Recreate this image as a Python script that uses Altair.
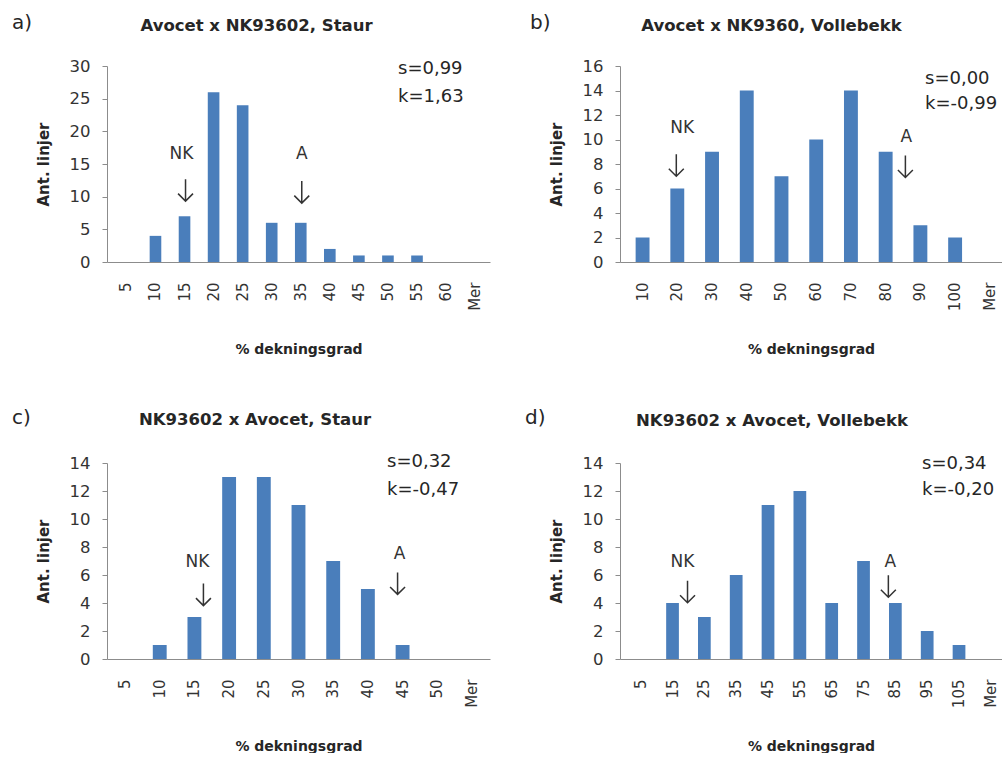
import altair as alt
import pandas as pd

# ---------------- data ----------------
titles = ["Avocet x NK93602,  Staur", "Avocet x NK9360, Vollebekk",
          "NK93602 x Avocet, Staur", "NK93602 x Avocet, Vollebekk"]
tags = ["a)", "b)", "c)", "d)"]
s_texts = ["s=0,99", "s=0,00", "s=0,32", "s=0,34"]
k_texts = ["k=1,63", "k=-0,99", "k=-0,47", "k=-0,20"]

cats_a = ["5", "10", "15", "20", "25", "30", "35", "40", "45", "50", "55", "60", "Mer"]
vals_a = [0, 4, 7, 26, 24, 6, 6, 2, 1, 1, 1, 0, 0]
cats_b = ["10", "20", "30", "40", "50", "60", "70", "80", "90", "100", "Mer"]
vals_b = [2, 6, 9, 14, 7, 10, 14, 9, 3, 2, 0]
cats_c = ["5", "10", "15", "20", "25", "30", "35", "40", "45", "50", "Mer"]
vals_c = [0, 1, 3, 13, 13, 11, 7, 5, 1, 0, 0]
cats_d = ["5", "15", "25", "35", "45", "55", "65", "75", "85", "95", "105", "Mer"]
vals_d = [0, 4, 3, 6, 11, 12, 4, 7, 4, 2, 1, 0]

y_max = [30, 16, 14, 14]
y_step = [5, 2, 2, 2]

ann_labels = [["NK", "A"], ["NK", "A"], ["NK", "A"], ["NK", "A"]]
ann_cats = [["15", "35"], ["20", "90"], ["15", "45"], ["15", "85"]]
ann_text_y = [[16.5, 16.5], [10.9, 10.2], [6.9, 7.5], [6.9, 6.9]]
ann_arrow_y = [[11.0, 10.7], [7.9, 7.8], [4.6, 5.4], [4.8, 5.2]]

# ---------------- style / layout ----------------
FONT = "DejaVu Sans"
BAR = "#4a7ebb"
AX = "#8c8c8c"
TXT = "#262626"
LBL = "#333333"
H = 196
widths = [383, 382, 383, 382]
pad_outer = [0.39, 0.3, 0.32, 0.3]
band_align = [0.6, 0.75, 0.5, 0.75]
ann_text_dx = [[-3, 1], [5, -14], [3, -3], [10, -5]]
ann_arrow_dx = [[1, 1], [-1, -15], [9, -5], [15, -7]]
title_pos = [(149.5, -40), (151.5, -40), (148, -43), (152, -42)]
tag_pos = [(-95, -43), (-90, -43), (-95, -45.5), (-95, -45.5)]
sk_pos = [(291, 2.5, 30.5), (305, 12.5, 37.5), (280, -1.5, 27), (302, 1, 26.5)]
ARROW = "M0,-1L0,1M-0.68,0.32L0,1L0.68,0.32"


def panel(i, cats, vals):
    W = widths[i]
    xs = alt.Scale(domain=cats, paddingInner=0.6, paddingOuter=pad_outer[i], align=band_align[i])
    ys = alt.Scale(domain=[0, y_max[i]], nice=False)
    x_axis = alt.Axis(labelAngle=270, ticks=False, labelPadding=20, labelFontSize=15,
                      titleY=87, titleBaseline="middle", titleFontSize=14,
                      titleFontWeight="bold")
    y_axis = alt.Axis(values=list(range(0, y_max[i] + 1, y_step[i])), labelFontSize=16.5,
                      tickSize=5, labelPadding=12, titleX=-64, titleY=H / 2,
                      titleAngle=270, titleAlign="center", titleBaseline="middle",
                      titleFontSize=15, titleFontWeight="bold")

    def xe():
        return alt.X("cat:N", scale=xs, sort=None, title="% dekningsgrad", axis=x_axis)

    def ye(field):
        return alt.Y(field, scale=ys, title="Ant. linjer", axis=y_axis)

    df = pd.DataFrame({"cat": cats, "n": vals})
    bars = alt.Chart(df).mark_bar(color=BAR).encode(x=xe(), y=ye("n:Q"))
    layers = [bars]
    for j, lab in enumerate(ann_labels[i]):
        adf = pd.DataFrame({"cat": [ann_cats[i][j]], "ty": [ann_text_y[i][j]],
                            "ay": [ann_arrow_y[i][j]], "lab": [lab]})
        layers.append(alt.Chart(adf).mark_text(font=FONT, fontSize=17, color="#333333",
                                               dx=ann_text_dx[i][j], baseline="middle").encode(
            x=xe(), y=ye("ty:Q"), text="lab:N"))
        layers.append(alt.Chart(adf).mark_point(shape=ARROW, filled=False, stroke="#333333",
                                                strokeWidth=1.5, size=484, opacity=1,
                                                xOffset=ann_arrow_dx[i][j]).encode(
            x=xe(), y=ye("ay:Q")))
    tdf = pd.DataFrame({"t": [titles[i]]})
    layers.append(alt.Chart(tdf).mark_text(font=FONT, fontSize=16.5, fontWeight="bold",
                                           color=TXT, align="center", baseline="middle").encode(
        x=alt.value(title_pos[i][0]), y=alt.value(title_pos[i][1]), text="t:N"))
    gdf = pd.DataFrame({"t": [tags[i]]})
    layers.append(alt.Chart(gdf).mark_text(font=FONT, fontSize=20, color=TXT,
                                           align="left", baseline="middle").encode(
        x=alt.value(tag_pos[i][0]), y=alt.value(tag_pos[i][1]), text="t:N"))
    sdf = pd.DataFrame({"t": [s_texts[i]]})
    layers.append(alt.Chart(sdf).mark_text(font=FONT, fontSize=18, color=TXT,
                                           align="left", baseline="middle").encode(
        x=alt.value(sk_pos[i][0]), y=alt.value(sk_pos[i][1]), text="t:N"))
    kdf = pd.DataFrame({"t": [k_texts[i]]})
    layers.append(alt.Chart(kdf).mark_text(font=FONT, fontSize=18, color=TXT,
                                           align="left", baseline="middle").encode(
        x=alt.value(sk_pos[i][0]), y=alt.value(sk_pos[i][2]), text="t:N"))
    return alt.layer(*layers).properties(width=W, height=H)


pa = panel(0, cats_a, vals_a)
pb = panel(1, cats_b, vals_b)
pc = panel(2, cats_c, vals_c)
pd_ = panel(3, cats_d, vals_d)

chart = alt.concat(pa, pb, pc, pd_, columns=2, bounds="flush",
                   spacing={"row": 201, "column": 130}).properties(
    padding={"left": 12, "top": 13, "right": 0, "bottom": 0}
).configure_view(stroke=None).configure_axis(
    grid=False, domainColor=AX, tickColor=AX, labelFont=FONT, titleFont=FONT,
    labelColor=LBL, titleColor=TXT
)

chart.save("out.html", embed_options={"renderer": "svg", "actions": False})
